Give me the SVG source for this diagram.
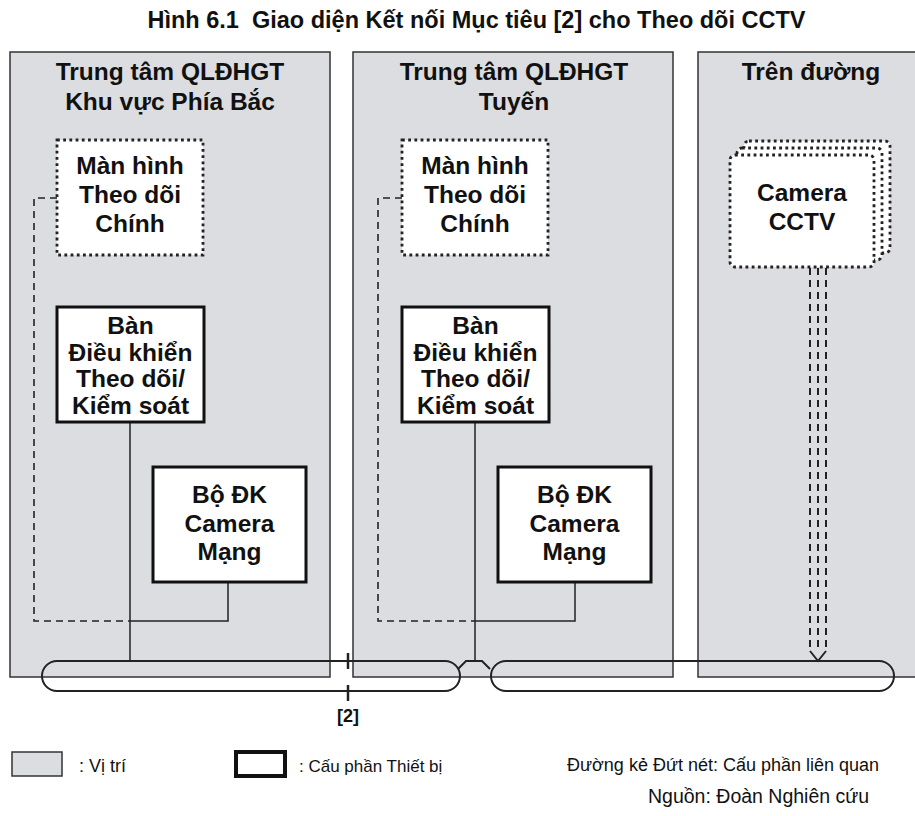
<svg xmlns="http://www.w3.org/2000/svg" width="915" height="816" viewBox="0 0 915 816">
<style>
.panel{fill:#dcdde0;stroke:#333;stroke-width:1.5}
.thick{fill:#fff;stroke:#111;stroke-width:3}
.dotted{fill:#fff;stroke:#222;stroke-width:2.8;stroke-dasharray:2.8 3.4}
.wire{fill:none;stroke:#222;stroke-width:1.5}
.dash{fill:none;stroke:#222;stroke-width:1.6;stroke-dasharray:7 5}
.bus{fill:none;stroke:#222;stroke-width:2}
.t{font-family:"Liberation Sans",Arial,sans-serif;font-weight:bold;font-size:24.5px;text-anchor:middle;fill:#111}
.n{font-family:"Liberation Sans",Arial,sans-serif;font-size:17px;fill:#111}
</style>
<rect width="915" height="816" fill="#fff"/>
<text x="476.5" y="28" class="t" style="font-size:23.5px">Hình 6.1&#160; Giao diện Kết nối Mục tiêu [2] cho Theo dõi CCTV</text>

<g id="panel-north">
<rect class="panel" x="10" y="52" width="320" height="625"/>
<text class="t" x="170" y="80">Trung tâm QLĐHGT</text>
<text class="t" x="170" y="110">Khu vực Phía Bắc</text>
</g>
<g id="panel-route">
<rect class="panel" x="353" y="52" width="320" height="625"/>
<text class="t" x="514" y="80">Trung tâm QLĐHGT</text>
<text class="t" x="514" y="110">Tuyến</text>
</g>
<g id="panel-road">
<rect class="panel" x="698" y="52" width="230" height="625"/>
<text class="t" x="811" y="80">Trên đường</text>
</g>

<g id="connectors">
<path class="wire" d="M130,422V661M228,582V621H130"/>
<path class="dash" d="M57,198H34V621H130"/>
<path class="wire" d="M475,422V661M575,582V621H475"/>
<path class="dash" d="M402,198H378V621H475"/>
<path class="dash" d="M810,268V650M818,268V650M826,268V650" style="stroke-width:2"/>
<path class="wire" d="M810,651L818,661L826,651" style="stroke-width:2"/>
</g>

<g id="bus">
<rect class="bus" x="42" y="661" width="418" height="30" rx="15"/>
<rect class="bus" x="491" y="661" width="403" height="30" rx="15"/>
<path class="bus" d="M458,669L466,661H482L490,669"/>
<path class="bus" d="M348,653V669M348,685V701" style="stroke-width:2.5"/>
<text class="t" x="348" y="722" style="font-size:18px">[2]</text>
</g>

<g id="monitor-north">
<rect class="dotted" x="57" y="140" width="146" height="115"/>
<text class="t" x="130" y="174">Màn hình</text>
<text class="t" x="130" y="203">Theo dõi</text>
<text class="t" x="130" y="232">Chính</text>
</g>
<g id="monitor-route">
<rect class="dotted" x="402" y="140" width="146" height="115"/>
<text class="t" x="475" y="174">Màn hình</text>
<text class="t" x="475" y="203">Theo dõi</text>
<text class="t" x="475" y="232">Chính</text>
</g>
<g id="console-north">
<rect class="thick" x="57" y="307" width="147" height="115"/>
<text class="t" x="130.5" y="334">Bàn</text>
<text class="t" x="130.5" y="360.5">Điều khiển</text>
<text class="t" x="130.5" y="387">Theo dõi/</text>
<text class="t" x="130.5" y="413.5">Kiểm soát</text>
</g>
<g id="console-route">
<rect class="thick" x="402" y="307" width="147" height="115"/>
<text class="t" x="475.5" y="334">Bàn</text>
<text class="t" x="475.5" y="360.5">Điều khiển</text>
<text class="t" x="475.5" y="387">Theo dõi/</text>
<text class="t" x="475.5" y="413.5">Kiểm soát</text>
</g>
<g id="ctrl-north">
<rect class="thick" x="153" y="467" width="153" height="115"/>
<text class="t" x="229.5" y="503">Bộ ĐK</text>
<text class="t" x="229.5" y="531.5">Camera</text>
<text class="t" x="229.5" y="560">Mạng</text>
</g>
<g id="ctrl-route">
<rect class="thick" x="498" y="467" width="153" height="115"/>
<text class="t" x="574.5" y="503">Bộ ĐK</text>
<text class="t" x="574.5" y="531.5">Camera</text>
<text class="t" x="574.5" y="560">Mạng</text>
</g>
<g id="camera">
<rect class="dotted" x="744" y="141" width="146" height="112" rx="5"/>
<rect class="dotted" x="737" y="148" width="145" height="112" rx="5"/>
<rect class="dotted" x="730" y="155" width="144" height="112" rx="5"/>
<text class="t" x="802" y="201">Camera</text>
<text class="t" x="802" y="230">CCTV</text>
</g>

<g id="legend">
<rect x="12" y="752" width="50" height="24" fill="#dcdde0" stroke="#333" stroke-width="1.5"/>
<text class="n" x="79" y="772" style="font-size:18px">: Vị trí</text>
<rect x="236" y="752" width="49" height="24" fill="#fff" stroke="#111" stroke-width="4"/>
<text class="n" x="299" y="772">: Cấu phần Thiết bị</text>
<text class="n" x="567" y="771" style="font-size:18px">Đường kẻ Đứt nét: Cấu phần liên quan</text>
<text class="n" x="648" y="803" style="font-size:19.5px">Nguồn: Đoàn Nghiên cứu</text>
</g>
</svg>
